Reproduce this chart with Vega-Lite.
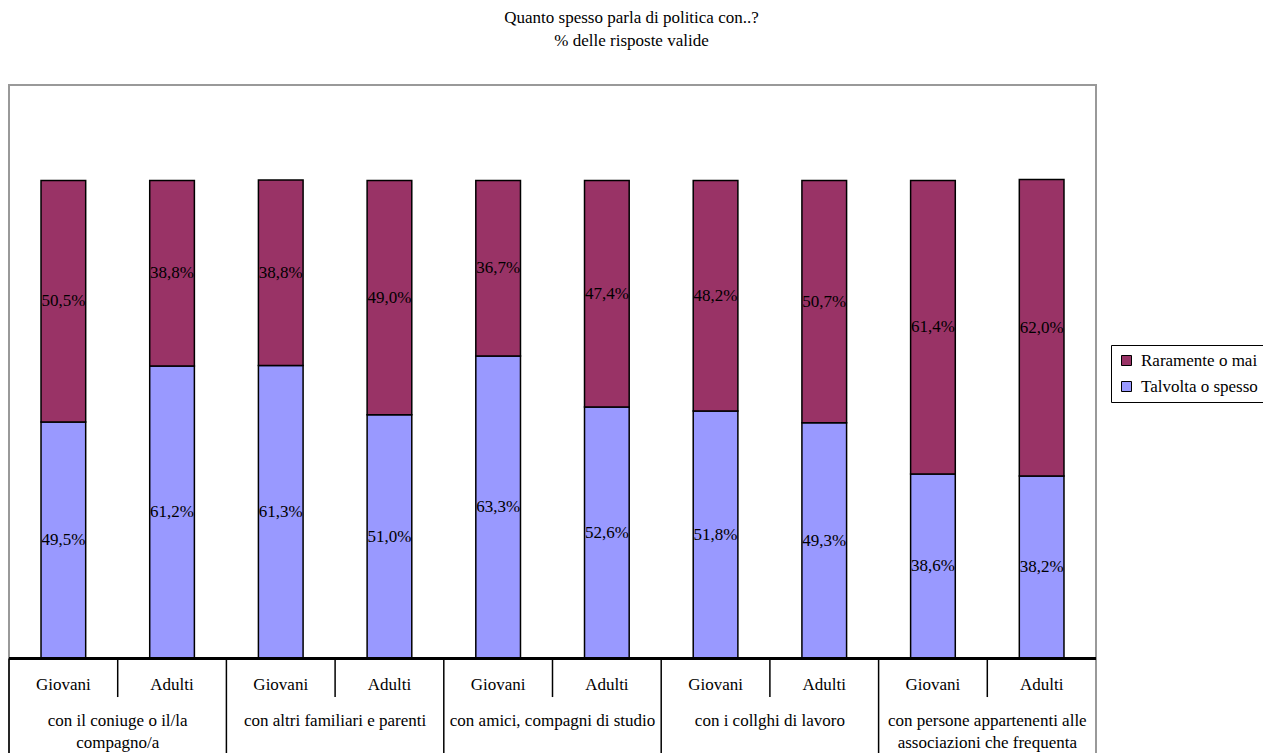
{
  "$schema": "https://vega.github.io/schema/vega-lite/v6.json",
  "width": 1087,
  "height": 669,
  "autosize": {"type": "none"},
  "padding": {"left": 9, "top": 85, "right": 167, "bottom": 0},
  "background": "white",
  "title": {
    "text": ["Quanto spesso parla di politica con..?", "% delle risposte valide"],
    "font": "Liberation Serif",
    "fontSize": 17,
    "fontWeight": "normal",
    "color": "black",
    "lineHeight": 23,
    "anchor": "middle",
    "frame": "group",
    "dx": 79,
    "offset": 35
  },
  "config": {
    "font": "Liberation Serif",
    "view": {"stroke": "#999999", "strokeWidth": 2},
    "locale": {
      "number": {"decimal": ",", "thousands": ".", "grouping": [3], "currency": ["", " €"]}
    },
    "text": {"font": "Liberation Serif", "fontSize": 17, "color": "black"},
    "legend": {
      "labelFont": "Liberation Serif",
      "labelFontSize": 17,
      "labelColor": "black",
      "strokeColor": "black",
      "strokeWidth": 1,
      "padding": 7,
      "rowPadding": 8,
      "labelOffset": 6,
      "symbolType": "square",
      "symbolSize": 100,
      "symbolStrokeColor": "black",
      "symbolStrokeWidth": 1,
      "symbolOpacity": 1,
      "fillColor": "white"
    }
  },
  "data": {
    "values": [
      {"gruppo": "con il coniuge o il/la\ncompagno/a", "eta": "Giovani", "serie": "Talvolta o spesso", "valore": 0.495},
      {"gruppo": "con il coniuge o il/la\ncompagno/a", "eta": "Giovani", "serie": "Raramente o mai", "valore": 0.505},
      {"gruppo": "con il coniuge o il/la\ncompagno/a", "eta": "Adulti", "serie": "Talvolta o spesso", "valore": 0.612},
      {"gruppo": "con il coniuge o il/la\ncompagno/a", "eta": "Adulti", "serie": "Raramente o mai", "valore": 0.388},
      {"gruppo": "con altri familiari e parenti", "eta": "Giovani", "serie": "Talvolta o spesso", "valore": 0.613},
      {"gruppo": "con altri familiari e parenti", "eta": "Giovani", "serie": "Raramente o mai", "valore": 0.388},
      {"gruppo": "con altri familiari e parenti", "eta": "Adulti", "serie": "Talvolta o spesso", "valore": 0.510},
      {"gruppo": "con altri familiari e parenti", "eta": "Adulti", "serie": "Raramente o mai", "valore": 0.490},
      {"gruppo": "con amici, compagni di studio", "eta": "Giovani", "serie": "Talvolta o spesso", "valore": 0.633},
      {"gruppo": "con amici, compagni di studio", "eta": "Giovani", "serie": "Raramente o mai", "valore": 0.367},
      {"gruppo": "con amici, compagni di studio", "eta": "Adulti", "serie": "Talvolta o spesso", "valore": 0.526},
      {"gruppo": "con amici, compagni di studio", "eta": "Adulti", "serie": "Raramente o mai", "valore": 0.474},
      {"gruppo": "con i collghi di lavoro", "eta": "Giovani", "serie": "Talvolta o spesso", "valore": 0.518},
      {"gruppo": "con i collghi di lavoro", "eta": "Giovani", "serie": "Raramente o mai", "valore": 0.482},
      {"gruppo": "con i collghi di lavoro", "eta": "Adulti", "serie": "Talvolta o spesso", "valore": 0.493},
      {"gruppo": "con i collghi di lavoro", "eta": "Adulti", "serie": "Raramente o mai", "valore": 0.507},
      {"gruppo": "con persone appartenenti alle\nassociazioni che frequenta", "eta": "Giovani", "serie": "Talvolta o spesso", "valore": 0.386},
      {"gruppo": "con persone appartenenti alle\nassociazioni che frequenta", "eta": "Giovani", "serie": "Raramente o mai", "valore": 0.614},
      {"gruppo": "con persone appartenenti alle\nassociazioni che frequenta", "eta": "Adulti", "serie": "Talvolta o spesso", "valore": 0.382},
      {"gruppo": "con persone appartenenti alle\nassociazioni che frequenta", "eta": "Adulti", "serie": "Raramente o mai", "valore": 0.620}
    ]
  },
  "layer": [
    {
      "transform": [
        {"stack": "valore", "groupby": ["gruppo", "eta"], "sort": [{"field": "serie", "order": "descending"}], "as": ["y0", "y1"]}
      ],
      "mark": {"type": "bar", "stroke": "black", "strokeWidth": 1.5},
      "encoding": {
        "x": {"field": "gruppo", "type": "nominal", "sort": null, "scale": {"paddingInner": 0, "paddingOuter": 0}, "axis": null},
        "xOffset": {"field": "eta", "type": "nominal", "sort": null, "scale": {"paddingInner": 0.589, "paddingOuter": 0.2945}},
        "y": {"field": "y0", "type": "quantitative", "scale": {"domain": [-0.2, 1.2], "nice": false, "zero": false}, "axis": null},
        "y2": {"field": "y1"},
        "color": {
          "field": "serie",
          "type": "nominal",
          "scale": {"domain": ["Raramente o mai", "Talvolta o spesso"], "range": ["#993366", "#9999FF"]},
          "legend": {"title": null, "orient": "none", "legendX": 1102, "legendY": 260}
        }
      }
    },
    {
      "transform": [
        {"stack": "valore", "groupby": ["gruppo", "eta"], "sort": [{"field": "serie", "order": "descending"}], "as": ["y0", "y1"]},
        {"calculate": "(datum.y0 + datum.y1) / 2", "as": "ymid"}
      ],
      "mark": {"type": "text", "baseline": "middle", "align": "center"},
      "encoding": {
        "x": {"field": "gruppo", "type": "nominal", "sort": null},
        "xOffset": {"field": "eta", "type": "nominal", "sort": null},
        "y": {"field": "ymid", "type": "quantitative"},
        "text": {"field": "valore", "type": "quantitative", "format": ".1%"}
      }
    },
    {
      "mark": {"type": "rule", "color": "black", "strokeWidth": 1.5},
      "encoding": {"y": {"datum": 0}}
    },
    {
      "transform": [{"filter": "datum.serie === 'Talvolta o spesso' && datum.eta === 'Giovani'"}],
      "mark": {"type": "rule", "color": "black", "strokeWidth": 1.5},
      "encoding": {
        "x": {"field": "gruppo", "type": "nominal", "sort": null, "bandPosition": 0},
        "y": {"datum": 0},
        "y2": {"datum": -0.2}
      }
    },
    {
      "transform": [{"filter": "datum.serie === 'Talvolta o spesso' && datum.eta === 'Giovani'"}],
      "mark": {"type": "rule", "color": "black", "strokeWidth": 1.5},
      "encoding": {
        "x": {"field": "gruppo", "type": "nominal", "sort": null, "bandPosition": 0.5},
        "y": {"datum": 0},
        "y2": {"datum": -0.0808}
      }
    },
    {
      "transform": [{"filter": "datum.serie === 'Talvolta o spesso'"}],
      "mark": {"type": "text", "baseline": "middle", "align": "center"},
      "encoding": {
        "x": {"field": "gruppo", "type": "nominal", "sort": null},
        "xOffset": {"field": "eta", "type": "nominal", "sort": null},
        "y": {"datum": -0.0554},
        "text": {"field": "eta", "type": "nominal"}
      }
    },
    {
      "transform": [{"filter": "datum.serie === 'Talvolta o spesso' && datum.eta === 'Giovani'"}],
      "mark": {"type": "text", "baseline": "top", "align": "center", "lineBreak": "\n", "lineHeight": 22},
      "encoding": {
        "x": {"field": "gruppo", "type": "nominal", "sort": null},
        "y": {"datum": -0.115},
        "text": {"field": "gruppo", "type": "nominal"}
      }
    }
  ]
}
